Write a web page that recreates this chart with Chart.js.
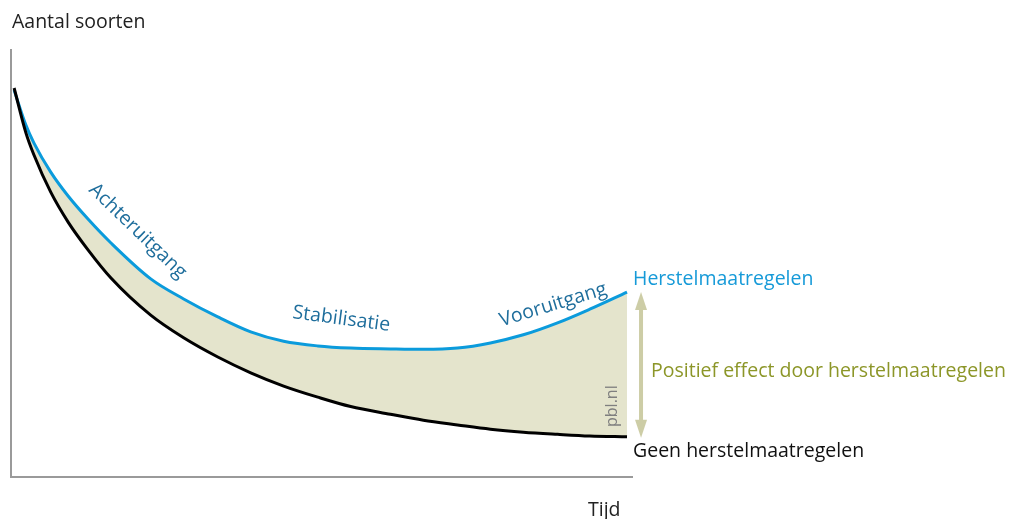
<!DOCTYPE html>
<html>
<head>
<meta charset="utf-8">
<script src="https://cdn.jsdelivr.net/npm/chart.js@4/dist/chart.umd.min.js"></script>
<style>
body{margin:0;background:#fff;}
</style>
</head>
<body>
<canvas id="chart" width="1014" height="519"></canvas>
<script>
// tijd (willekeurige eenheden 0-100) en aantal soorten (0-100)
const tijd=[0.5,2.4,3.7,6.4,9.2,12.4,16.1,22.5,27.8,33.3,38.6,43.9,49.4,54.7,61.1,66.4,71.9,77.2,82.5,88.0,93.2,99.2];
const geenHerstel=[91.1,80.6,75.4,66.7,59.7,53.2,46.6,37.9,32.6,28.1,24.4,21.3,18.7,16.5,14.7,13.3,12.2,11.2,10.5,10.0,9.6,9.4];
const metHerstel=[90.6,82.4,78.2,71.4,65.8,60.4,54.8,46.4,41.7,37.5,34.0,31.8,30.7,30.2,30.0,29.9,30.2,31.4,33.3,36.1,39.3,43.3];
const seriesNamen=['Geen herstelmaatregelen','Herstelmaatregelen'];
const effectLabel='Positief effect door herstelmaatregelen';
const asTitels=['Tijd','Aantal soorten'];
const fasen=['Achteruitgang','Stabilisatie','Vooruitgang'];

const FONT='"Open Sans", sans-serif';

function toPoints(xs,ys){
    return xs.map((x,i)=>({x:x,y:ys[i]}));
}

// fase-labels langs de curve: positie in data-eenheden + hoek
const faseLayout=[
    {x:20.4,y:57.6,angle:44},
    {x:53.2,y:37.0,angle:7.5},
    {x:87.3,y:40.3,angle:-17}
];

const annotaties={
    id:'annotaties',
    afterDatasetsDraw(chart){
        const ctx=chart.ctx;
        const xs=chart.scales.x, ys=chart.scales.y;
        const area=chart.chartArea;
        const last=tijd.length-1;
        const endX=xs.getPixelForValue(tijd[last]);
        const blueY=ys.getPixelForValue(metHerstel[last]);
        const blackY=ys.getPixelForValue(geenHerstel[last]);

        ctx.save();
        ctx.font='19.5px '+FONT;
        ctx.textBaseline='middle';

        // fasen
        ctx.fillStyle='#1f6e9c';
        ctx.textAlign='center';
        fasen.forEach((f,i)=>{
            const p=faseLayout[i];
            ctx.save();
            ctx.translate(xs.getPixelForValue(p.x),ys.getPixelForValue(p.y));
            ctx.rotate(p.angle*Math.PI/180);
            ctx.fillText(f,0,0);
            ctx.restore();
        });

        // eindlabels
        ctx.textAlign='left';
        ctx.fillStyle='#169ad8';
        ctx.fillText(seriesNamen[1],endX+6,blueY-13);
        ctx.fillStyle='#111';
        ctx.fillText(seriesNamen[0],endX+6,blackY+15);

        // pijl
        const ax=endX+14;
        const top=blueY, bot=blackY+1;
        ctx.fillStyle='#cdcda6';
        ctx.fillRect(ax-2,top+16,4,bot-top-32);
        ctx.beginPath();
        ctx.moveTo(ax,top);ctx.lineTo(ax+6,top+18);ctx.lineTo(ax-6,top+18);ctx.closePath();
        ctx.fill();
        ctx.beginPath();
        ctx.moveTo(ax,bot);ctx.lineTo(ax+6,bot-18);ctx.lineTo(ax-6,bot-18);ctx.closePath();
        ctx.fill();

        ctx.fillStyle='#8c9628';
        ctx.fillText(effectLabel,ax+10,(top+bot)/2+6);

        // pbl.nl
        ctx.save();
        ctx.translate(endX-15,ys.getPixelForValue(16.6));
        ctx.rotate(-Math.PI/2);
        ctx.textAlign='center';
        ctx.font='16px '+FONT;
        ctx.fillStyle='#7f7f7f';
        ctx.fillText('pbl.nl',0,0);
        ctx.restore();

        // astitels
        ctx.font='19.5px '+FONT;
        ctx.fillStyle='#222';
        ctx.textAlign='left';
        ctx.fillText(asTitels[1],area.left+1,22);
        ctx.fillText(asTitels[0],area.right-44,510);
        ctx.restore();
    }
};

new Chart(document.getElementById('chart'),{
    type:'line',
    data:{
        datasets:[
            {
                label:seriesNamen[0],
                data:toPoints(tijd,geenHerstel),
                borderColor:'#000',
                borderWidth:3,
                pointRadius:0,
                fill:false,
                cubicInterpolationMode:'monotone'
            },
            {
                label:seriesNamen[1],
                data:toPoints(tijd,metHerstel),
                borderColor:'#0b9bdc',
                borderWidth:3,
                pointRadius:0,
                fill:'-1',
                backgroundColor:'#e4e4cc',
                cubicInterpolationMode:'monotone'
            }
        ]
    },
    options:{
        responsive:false,
        animation:false,
        devicePixelRatio:1,
        layout:{padding:{left:11,top:50,right:382,bottom:42}},
        plugins:{legend:{display:false},tooltip:{enabled:false}},
        scales:{
            x:{
                type:'linear',min:0,max:100,
                ticks:{display:false},
                grid:{display:false,drawTicks:false},
                border:{display:true,color:'#9a9a9a',width:2}
            },
            y:{
                type:'linear',min:0,max:100,
                ticks:{display:false},
                grid:{display:false,drawTicks:false},
                border:{display:true,color:'#9a9a9a',width:2}
            }
        }
    },
    plugins:[annotaties]
});
</script>
</body>
</html>
